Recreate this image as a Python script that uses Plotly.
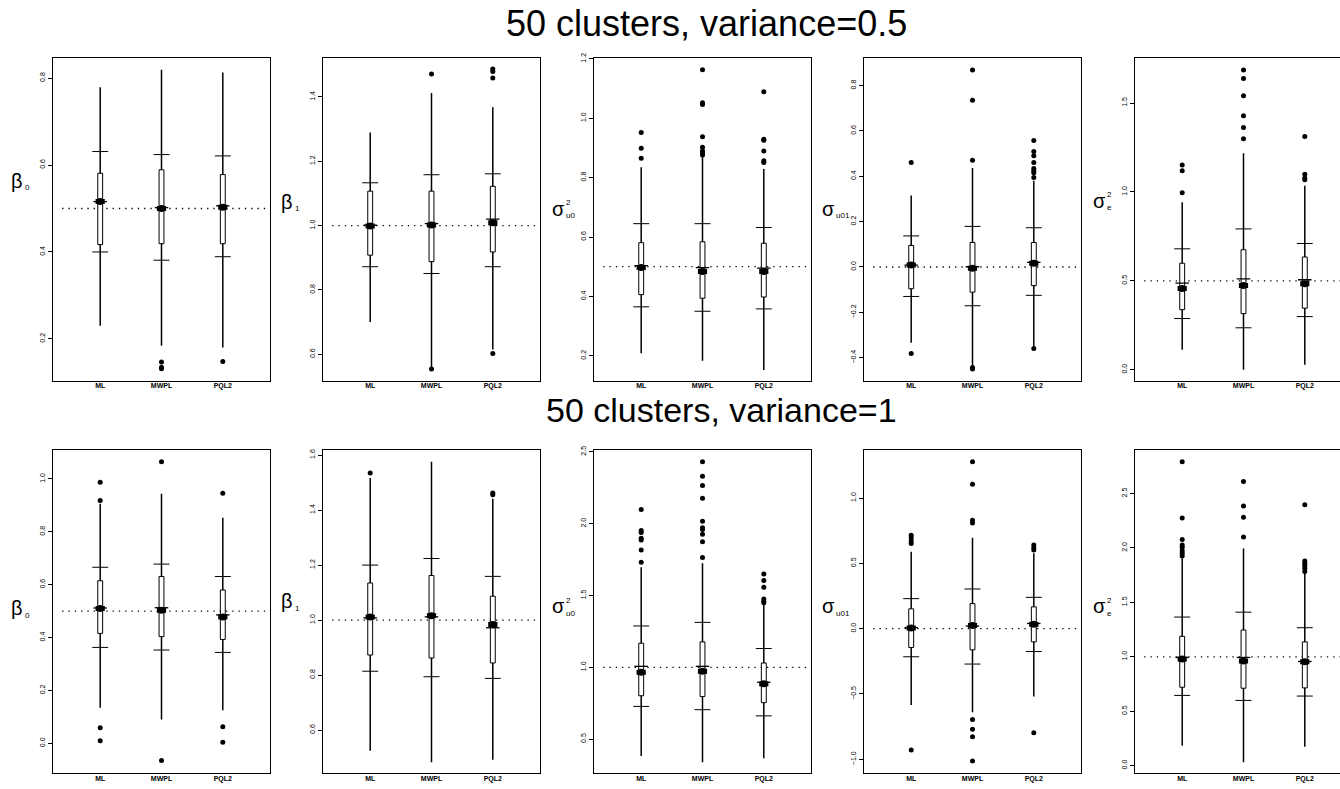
import plotly.graph_objects as go

W, H = 1340, 789

methods = ["ML", "MWPL", "PQL2"]
titles = ["50 clusters, variance=0.5", "50 clusters, variance=1"]
ylabel_main = ["β", "β", "σ", "σ", "σ"] * 2
ylabel_sub = ["0", "1", "u0", "u01", "e"] * 2
ylabel_sup = ["", "", "2", "", "2"] * 2
true_values = [0.5, 1.0, 0.5, 0.0, 0.5, 0.5, 1.0, 1.0, 0.0, 1.0]

whisker_hi = [
    [0.779, 0.819, 0.813],
    [1.289, 1.412, 1.368],
    [0.835, 0.874, 0.829],
    [0.315, 0.436, 0.380],
    [0.942, 1.217, 1.035],
    [0.906, 0.944, 0.853],
    [1.517, 1.576, 1.441],
    [1.697, 1.725, 1.460],
    [0.590, 0.696, 0.577],
    [1.905, 1.996, 1.784],
]
whisker_lo = [
    [0.230, 0.184, 0.180],
    [0.700, 0.560, 0.615],
    [0.209, 0.183, 0.152],
    [-0.334, -0.436, -0.359],
    [0.112, 0.000, 0.028],
    [0.135, 0.090, 0.125],
    [0.525, 0.483, 0.492],
    [0.383, 0.339, 0.367],
    [-0.585, -0.640, -0.519],
    [0.183, 0.031, 0.174],
]
bar_hi = [
    [0.631, 0.624, 0.621],
    [1.133, 1.158, 1.161],
    [0.645, 0.645, 0.632],
    [0.137, 0.179, 0.173],
    [0.680, 0.792, 0.710],
    [0.666, 0.678, 0.631],
    [1.200, 1.224, 1.159],
    [1.288, 1.313, 1.131],
    [0.230, 0.304, 0.240],
    [1.365, 1.410, 1.267],
]
bar_lo = [
    [0.400, 0.381, 0.389],
    [0.872, 0.851, 0.872],
    [0.365, 0.350, 0.358],
    [-0.130, -0.171, -0.125],
    [0.288, 0.236, 0.299],
    [0.363, 0.353, 0.344],
    [0.814, 0.794, 0.788],
    [0.728, 0.705, 0.662],
    [-0.215, -0.271, -0.175],
    [0.645, 0.599, 0.639],
]
q3 = [
    [0.581, 0.589, 0.578],
    [1.107, 1.107, 1.122],
    [0.581, 0.584, 0.579],
    [0.095, 0.108, 0.108],
    [0.599, 0.675, 0.634],
    [0.615, 0.631, 0.580],
    [1.135, 1.162, 1.087],
    [1.168, 1.177, 1.030],
    [0.152, 0.192, 0.167],
    [1.188, 1.246, 1.137],
]
q1 = [
    [0.417, 0.419, 0.419],
    [0.908, 0.888, 0.918],
    [0.406, 0.394, 0.398],
    [-0.096, -0.111, -0.082],
    [0.338, 0.316, 0.346],
    [0.416, 0.404, 0.393],
    [0.873, 0.862, 0.844],
    [0.802, 0.797, 0.754],
    [-0.144, -0.162, -0.101],
    [0.720, 0.711, 0.714],
]
means = [
    [0.516, 0.500, 0.503],
    [0.999, 1.002, 1.009],
    [0.497, 0.484, 0.484],
    [0.009, -0.006, 0.016],
    [0.457, 0.474, 0.483],
    [0.510, 0.503, 0.478],
    [1.011, 1.016, 0.984],
    [0.965, 0.972, 0.885],
    [0.005, 0.025, 0.033],
    [0.979, 0.961, 0.954],
]
medians = [
    [0.516, 0.502, 0.506],
    [1.001, 1.006, 1.020],
    [0.504, 0.497, 0.495],
    [0.008, 0.001, 0.020],
    [0.487, 0.511, 0.506],
    [0.512, 0.513, 0.486],
    [1.008, 1.012, 0.972],
    [1.007, 1.007, 0.896],
    [0.008, 0.020, 0.040],
    [0.994, 0.994, 0.957],
]
outliers = [
    [[], [0.147, 0.135, 0.131], [0.148]],
    [[], [1.471, 0.554], [1.487, 1.479, 1.459, 0.602]],
    [[0.952, 0.899, 0.865], [1.163, 1.052, 1.046, 0.938, 0.902, 0.890, 0.883, 0.876],
     [1.089, 0.929, 0.926, 0.890, 0.857, 0.851]],
    [[0.461, -0.382], [0.869, 0.735, 0.471, -0.443, -0.450],
     [0.558, 0.509, 0.490, 0.461, 0.434, 0.424, 0.415, 0.395, -0.359]],
    [[1.151, 1.119, 0.996], [1.686, 1.638, 1.541, 1.428, 1.362, 1.299], [1.312, 1.100, 1.078, 1.069]],
    [[0.988, 0.919, 0.059, 0.010], [1.065, -0.065], [0.946, 0.063, 0.004]],
    [[1.535], [], [1.462, 1.456]],
    [[2.098, 1.953, 1.939, 1.898, 1.886, 1.817, 1.732],
     [2.432, 2.330, 2.266, 2.178, 2.017, 1.971, 1.960, 1.927, 1.875, 1.764],
     [1.649, 1.605, 1.557, 1.476, 1.460, 1.449]],
    [[0.716, 0.696, 0.671, 0.653, -0.929], [1.278, 1.106, 0.830, 0.810, -0.696, -0.770, -0.828, -1.013],
     [0.641, 0.620, 0.603, -0.797]],
    [[2.792, 2.276, 2.078, 2.027, 2.006, 1.975, 1.951, 1.927], [2.610, 2.385, 2.282, 2.100],
     [2.397, 1.881, 1.860, 1.838, 1.814, 1.784]],
]
y_ranges = [
    [0.104, 0.847], [0.518, 1.522], [0.1165, 1.204], [-0.501, 0.923], [-0.061, 1.755],
    [-0.1125, 1.109], [0.4435, 1.618], [0.2635, 2.512], [-1.106, 1.367], [-0.069, 2.899],
]
y_dtick = [0.2, 0.2, 0.2, 0.2, 0.5, 0.2, 0.2, 0.5, 0.5, 0.5]

# ---------------- layout geometry (pixels) ----------------
panel_left = [53, 323, 594, 864, 1135]
panel_w = 217
row_top = [53, 448]
row_bot = [378, 773]
xr = [0.23, 3.77]
px_per_unit = panel_w / (xr[1] - xr[0])
label_y = [177, 198, 205, 205, 197, 607, 600, 605, 605, 605]

FONT = "Liberation Sans, Arial, sans-serif"

fig = go.Figure()
layout = dict(
    width=W, height=H, margin=dict(l=0, r=0, t=0, b=0),
    paper_bgcolor="white", plot_bgcolor="white", showlegend=False,
    font=dict(family=FONT, color="black"),
)
annotations = []

half_box = 0.04
half_bar = 0.13
half_med = 0.11
half_blob = 0.075


def ann(xp, yp, text, size, xanchor="center"):
    return dict(x=xp / W, y=1 - yp / H, xref="paper", yref="paper", text=text,
                showarrow=False, xanchor=xanchor, yanchor="middle",
                font=dict(size=size, family=FONT, color="black"))


for p in range(10):
    row, col = divmod(p, 5)
    n = p + 1
    xa = "x" if n == 1 else f"x{n}"
    ya = "y" if n == 1 else f"y{n}"
    left = panel_left[col]
    right = min(left + panel_w, W)
    x_hi = xr[0] + (right - left) / px_per_unit
    layout["xaxis" if n == 1 else f"xaxis{n}"] = dict(
        domain=[left / W, right / W], range=[xr[0], x_hi], anchor=ya,
        showline=True, mirror=True, linecolor="black", linewidth=1,
        showgrid=False, zeroline=False, ticks="",
        tickvals=[1, 2, 3], ticktext=methods,
        tickfont=dict(size=7, family=FONT, color="black", weight="bold"),
        ticklabelstandoff=-2, fixedrange=True,
    )
    layout["yaxis" if n == 1 else f"yaxis{n}"] = dict(
        domain=[1 - row_bot[row] / H, 1 - row_top[row] / H], range=y_ranges[p], anchor=xa,
        showline=True, mirror=(col != 4), linecolor="black", linewidth=1,
        showgrid=False, zeroline=False, ticks="outside", ticklen=4, tickwidth=1,
        tickcolor="black", tick0=0, dtick=y_dtick[p], tickformat=".1f",
        tickangle=-90, tickfont=dict(size=7, family=FONT, color="black"), fixedrange=True,
    )

    xs = [1, 2, 3]
    # reference (true value) dotted line
    fig.add_trace(go.Scatter(x=[0.38, x_hi], y=[true_values[p]] * 2, mode="lines",
                             line=dict(color="black", width=1.3, dash="1.3px,5px"),
                             xaxis=xa, yaxis=ya, hoverinfo="skip"))
    # whiskers
    wx, wy = [], []
    for j, x in enumerate(xs):
        wx += [x, x, None]
        wy += [whisker_lo[p][j], whisker_hi[p][j], None]
    fig.add_trace(go.Scatter(x=wx, y=wy, mode="lines", line=dict(color="black", width=1.5),
                             xaxis=xa, yaxis=ya, hoverinfo="skip"))
    # crossbars
    cx, cy = [], []
    for j, x in enumerate(xs):
        for v in (bar_hi[p][j], bar_lo[p][j]):
            cx += [x - half_bar, x + half_bar, None]
            cy += [v, v, None]
    fig.add_trace(go.Scatter(x=cx, y=cy, mode="lines", line=dict(color="black", width=1),
                             xaxis=xa, yaxis=ya, hoverinfo="skip"))
    # boxes
    bx, by = [], []
    for j, x in enumerate(xs):
        bx += [x - half_box, x + half_box, x + half_box, x - half_box, x - half_box, None]
        by += [q1[p][j], q1[p][j], q3[p][j], q3[p][j], q1[p][j], None]
    fig.add_trace(go.Scatter(x=bx, y=by, mode="lines", fill="toself", fillcolor="white",
                             line=dict(color="black", width=1), xaxis=xa, yaxis=ya, hoverinfo="skip"))
    # median lines
    mx, my = [], []
    for j, x in enumerate(xs):
        mx += [x - half_med, x + half_med, None]
        my += [medians[p][j], medians[p][j], None]
    fig.add_trace(go.Scatter(x=mx, y=my, mode="lines", line=dict(color="black", width=1.3),
                             xaxis=xa, yaxis=ya, hoverinfo="skip"))
    # mean blobs
    ex, ey = [], []
    for j, x in enumerate(xs):
        ex += [x - half_blob, x + half_blob, None]
        ey += [means[p][j], means[p][j], None]
    fig.add_trace(go.Scatter(x=ex, y=ey, mode="lines", line=dict(color="black", width=5),
                             xaxis=xa, yaxis=ya, hoverinfo="skip"))
    fig.add_trace(go.Scatter(x=xs, y=means[p], mode="markers",
                             marker=dict(color="black", size=7, symbol="circle"),
                             xaxis=xa, yaxis=ya, hoverinfo="skip"))
    # outliers
    ox, oy = [], []
    for j, x in enumerate(xs):
        ox += [x] * len(outliers[p][j])
        oy += outliers[p][j]
    fig.add_trace(go.Scatter(x=ox, y=oy, mode="markers",
                             marker=dict(color="black", size=5, symbol="circle"),
                             xaxis=xa, yaxis=ya, hoverinfo="skip"))

    # y-axis label: symbol + subscript (+ superscript)
    lx = left - 36
    annotations.append(ann(lx, label_y[p], ylabel_main[p], 20))
    annotations.append(ann(lx + 6, label_y[p] + 7, ylabel_sub[p], 8, "left"))
    if ylabel_sup[p]:
        annotations.append(ann(lx + 6, label_y[p] - 6, ylabel_sup[p], 8, "left"))

title_pos = [(706, 19), (722, 408)]
title_size = [36, 34]
for t, (tx, ty), ts in zip(titles, title_pos, title_size):
    annotations.append(ann(tx, ty, t, ts))

layout["annotations"] = annotations
fig.update_layout(**layout)
fig.write_html("out.html")
